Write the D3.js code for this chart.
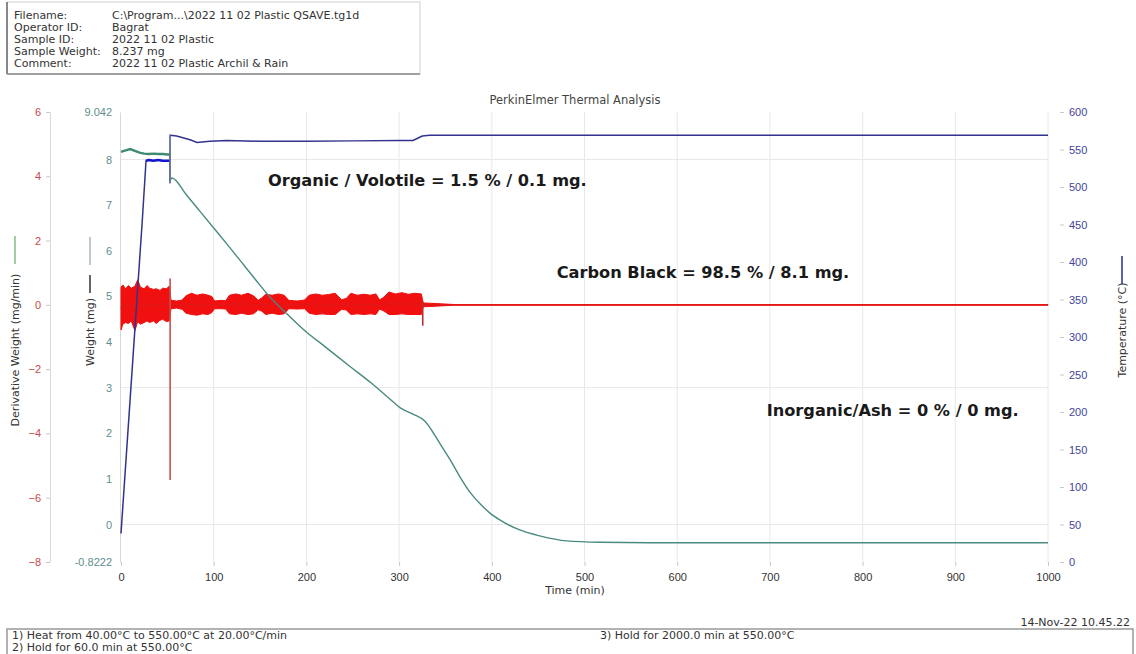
<!DOCTYPE html>
<html>
<head>
<meta charset="utf-8">
<script src="https://cdn.jsdelivr.net/npm/d3@7"></script>
<style>
  body { margin: 0; background: #fff; }
  svg { font-family: "DejaVu Sans", Verdana, sans-serif; }
</style>
</head>
<body>
<svg width="1136" height="654"></svg>
<script>
// header + footer texts
const headerLabels = ["Filename:", "Operator ID:", "Sample ID:", "Sample Weight:", "Comment:"];
const headerValues = ["C:\\Program...\\2022 11 02 Plastic QSAVE.tg1d", "Bagrat", "2022 11 02 Plastic", "8.237 mg", "2022 11 02 Plastic Archil & Rain"];
const methodSteps = ["1)  Heat from 40.00\u00B0C to 550.00\u00B0C at 20.00\u00B0C/min", "2)  Hold for 60.0 min at 550.00\u00B0C", "3)  Hold for 2000.0 min at 550.00\u00B0C"];

// tick values
const timeTicks = [0, 100, 200, 300, 400, 500, 600, 700, 800, 900, 1000];
const derivTicks = [-8, -6, -4, -2, 0, 2, 4, 6];
const weightTicks = [-0.8222, 0, 1, 2, 3, 4, 5, 6, 7, 8, 9.042];
const tempTicks = [0, 50, 100, 150, 200, 250, 300, 350, 400, 450, 500, 550, 600];

// weight (mg) vs time (min)
const weightTime = [0, 5, 10, 15, 20, 25, 30, 35, 40, 45, 50, 52.8, 53.2, 55, 70, 85, 100, 115, 130, 145, 160, 180, 200, 220, 246.7, 270, 290, 301.7, 315, 327.6, 343.9, 355, 365.5, 376, 387.1, 398, 408.6, 430.2, 451.8, 480.5, 516.4, 570, 700, 850, 1000];
const weightMg = [8.17, 8.20, 8.23, 8.19, 8.15, 8.13, 8.12, 8.13, 8.12, 8.12, 8.11, 8.11, 7.55, 7.595, 7.24, 6.87, 6.50, 6.13, 5.75, 5.37, 5.00, 4.60, 4.22, 3.90, 3.47, 3.10, 2.75, 2.55, 2.42, 2.27, 1.78, 1.42, 1.05, 0.72, 0.46, 0.25, 0.10, -0.12, -0.25, -0.36, -0.39, -0.40, -0.40, -0.40, -0.40];

// temperature (C) vs time
const tempTime = [0, 23, 27, 30, 35, 40, 45, 50, 52.8, 52.9, 53, 53.5, 60, 74.5, 82, 96, 114, 150, 200, 250, 300, 315, 320, 325, 333, 400, 600, 800, 1000];
const tempC = [38, 456, 535, 536, 535, 536, 535, 535, 535, 505, 569, 569, 568, 563, 559.5, 561, 562, 561, 561, 561.5, 562, 562, 565, 568, 569, 569, 569, 569, 569];

// derivative weight noise envelope (mg/min)
const derivTime = [0, 2, 5, 8, 11, 15, 18, 21, 25, 28, 31, 35, 38, 42, 45, 49, 52, 54, 60, 66, 70, 76, 82, 88, 94, 98, 101, 108, 113, 117, 124, 130, 137, 143, 148, 152, 156, 163, 170, 176, 181, 190, 198, 203, 210, 217, 224, 231, 238, 243, 248, 255, 262, 269, 275, 279, 284, 289, 296, 303, 310, 317, 324, 326, 340, 360, 1000];
const derivHi = [0.55, 0.62, 0.5, 0.6, 0.52, 0.58, 0.78, 0.55, 0.5, 0.6, 0.52, 0.48, 0.5, 0.45, 0.52, 0.5, 0.58, 0.14, 0.12, 0.15, 0.28, 0.36, 0.3, 0.34, 0.3, 0.26, 0.12, 0.14, 0.13, 0.3, 0.34, 0.3, 0.36, 0.28, 0.14, 0.22, 0.33, 0.3, 0.34, 0.3, 0.14, 0.12, 0.15, 0.3, 0.34, 0.3, 0.32, 0.36, 0.16, 0.2, 0.36, 0.3, 0.33, 0.3, 0.34, 0.15, 0.25, 0.4, 0.34, 0.38, 0.33, 0.36, 0.34, 0.06, 0.04, 0.01, 0.01];
const derivLo = [-0.78, -0.6, -0.55, -0.58, -0.5, -0.8, -0.52, -0.6, -0.55, -0.5, -0.55, -0.5, -0.58, -0.48, -0.45, -0.52, -0.5, -0.12, -0.1, -0.14, -0.26, -0.3, -0.32, -0.28, -0.3, -0.24, -0.12, -0.12, -0.13, -0.28, -0.3, -0.26, -0.3, -0.28, -0.15, -0.2, -0.3, -0.26, -0.3, -0.28, -0.12, -0.13, -0.12, -0.26, -0.3, -0.28, -0.3, -0.3, -0.14, -0.16, -0.3, -0.28, -0.3, -0.28, -0.3, -0.13, -0.2, -0.3, -0.3, -0.28, -0.3, -0.3, -0.3, -0.06, -0.04, -0.01, -0.01];
const spikeTime = [53, 325.5];
const spikeHi = [0.82, 0.1];
const spikeLo = [-5.45, -0.65];

const notes = [
  {text: "Organic / Volotile = 1.5 % / 0.1 mg.", t: 158.5, w: 7.42},
  {text: "Carbon Black = 98.5 % / 8.1 mg.", t: 470, w: 5.40},
  {text: "Inorganic/Ash = 0 % / 0 mg.", t: 696.5, w: 2.38}
];

const svg = d3.select("svg");
const FS = 11;

const x = d3.scaleLinear().domain([0, 1000]).range([121, 1048]);
const yD = d3.scaleLinear().domain([-8, 6]).range([562, 112]);
const yW = d3.scaleLinear().domain([-0.8222, 9.042]).range([562, 112]);
const yT = d3.scaleLinear().domain([0, 600]).range([562, 112]);

// header box
svg.append("rect").attr("x", 7).attr("y", 2).attr("width", 413).attr("height", 72)
  .attr("fill", "none").attr("stroke", "#d0d0d0");
svg.append("line").attr("x1", 7).attr("x2", 7).attr("y1", 2).attr("y2", 74).attr("stroke", "#888").attr("stroke-width", 2);
svg.append("line").attr("x1", 7).attr("x2", 420).attr("y1", 74).attr("y2", 74).attr("stroke", "#888").attr("stroke-width", 1.5);
headerLabels.forEach((l, i) => {
  svg.append("text").attr("x", 14).attr("y", 19 + i * 11.9).attr("font-size", FS).attr("fill", "#333").text(l);
  svg.append("text").attr("x", 112).attr("y", 19 + i * 11.9).attr("font-size", FS).attr("fill", "#333").text(headerValues[i]);
});

svg.append("text").attr("x", 575).attr("y", 104).attr("text-anchor", "middle")
  .attr("font-size", 11.5).attr("fill", "#444").text("PerkinElmer Thermal Analysis");

// grid
const grid = svg.append("g").attr("stroke", "#e8e8e8").attr("stroke-width", 1);
timeTicks.slice(1).forEach(t => {
  grid.append("line").attr("x1", x(t)).attr("x2", x(t)).attr("y1", 112).attr("y2", 562);
});
[8, 3, 0].forEach(w => {
  grid.append("line").attr("x1", 121).attr("x2", 1048).attr("y1", yW(w)).attr("y2", yW(w));
});

// axes
function styleAxis(g, color) {
  g.selectAll("text").attr("fill", color).attr("font-size", FS);
  g.selectAll("line").attr("stroke", "#c8c8c8");
  g.select(".domain").attr("stroke", "#d8d8d8");
}
const axD = svg.append("g").attr("transform", "translate(50,0)")
  .call(d3.axisLeft(yD).tickValues(derivTicks).tickSize(4).tickPadding(5).tickSizeOuter(0));
styleAxis(axD, "#c84a4a");

const axW = svg.append("g").attr("transform", "translate(120,0)")
  .call(d3.axisLeft(yW).tickValues(weightTicks).tickSize(0).tickPadding(8)
    .tickFormat(d => d === 9.042 ? "9.042" : d === -0.8222 ? "-0.8222" : d3.format("d")(d)));
styleAxis(axW, "#5f8e8c");

const axT = svg.append("g").attr("transform", "translate(1060,0)")
  .call(d3.axisRight(yT).tickValues(tempTicks).tickSize(4).tickPadding(5));
styleAxis(axT, "#44449a");
axT.select(".domain").remove();

const axX = svg.append("g").attr("transform", "translate(0,562)")
  .call(d3.axisBottom(x).tickValues(timeTicks).tickSize(4).tickPadding(7).tickSizeOuter(0).tickFormat(d3.format("d")));
styleAxis(axX, "#333");
axX.select(".domain").remove();

svg.append("text").attr("x", 575).attr("y", 594).attr("text-anchor", "middle")
  .attr("font-size", FS).attr("fill", "#333").text("Time (min)");

// axis titles with series markers
svg.append("line").attr("x1", 15).attr("x2", 15).attr("y1", 236).attr("y2", 264).attr("stroke", "#6aa870").attr("stroke-width", 1.2);
svg.append("text").attr("transform", "translate(19,350) rotate(-90)").attr("text-anchor", "middle")
  .attr("font-size", FS).attr("fill", "#333").text("Derivative Weight (mg/min)");
svg.append("line").attr("x1", 90).attr("x2", 90).attr("y1", 237).attr("y2", 265).attr("stroke", "#a8b8c0").attr("stroke-width", 1.5);
svg.append("line").attr("x1", 90).attr("x2", 90).attr("y1", 275).attr("y2", 293).attr("stroke", "#333").attr("stroke-width", 1.5);
svg.append("text").attr("transform", "translate(94,332) rotate(-90)").attr("text-anchor", "middle")
  .attr("font-size", FS).attr("fill", "#333").text("Weight (mg)");
svg.append("line").attr("x1", 1122).attr("x2", 1122).attr("y1", 256).attr("y2", 284).attr("stroke", "#2a2a9a").attr("stroke-width", 1.5);
svg.append("text").attr("transform", "translate(1126,330) rotate(-90)").attr("text-anchor", "middle")
  .attr("font-size", FS).attr("fill", "#333").text("Temperature (\u00B0C)");

// derivative band
const dIdx = d3.range(derivTime.length);
svg.append("path")
  .attr("d", d3.area().x(i => x(derivTime[i])).y0(i => yD(derivLo[i])).y1(i => yD(derivHi[i]))(dIdx))
  .attr("fill", "#f01010").attr("stroke", "#f01010").attr("stroke-width", 1);
svg.append("path")
  .attr("d", d3.line().x(i => x(derivTime[i])).y(i => yD((derivHi[i] + derivLo[i]) / 2))(dIdx))
  .attr("fill", "none").attr("stroke", "#e01818").attr("stroke-width", 1.3);
spikeTime.forEach((t, i) => {
  svg.append("line").attr("x1", x(t)).attr("x2", x(t)).attr("y1", yD(spikeHi[i])).attr("y2", yD(spikeLo[i]))
    .attr("stroke", i === 0 ? "#c85050" : "#b83030").attr("stroke-width", 1.6);
});

// weight curve
const wIdx = d3.range(weightTime.length);
const wLine = d3.line().x(i => x(weightTime[i])).y(i => yW(weightMg[i])).curve(d3.curveMonotoneX);
svg.append("path").attr("d", wLine(wIdx.filter(i => weightTime[i] >= 53)))
  .attr("fill", "none").attr("stroke", "#4a8a80").attr("stroke-width", 1.4);
svg.append("path").attr("d", d3.line().x(i => x(weightTime[i])).y(i => yW(weightMg[i]))(wIdx.filter(i => weightTime[i] <= 52.8)))
  .attr("fill", "none").attr("stroke", "#3f8a72").attr("stroke-width", 2.4);
svg.append("line").attr("x1", x(52.8)).attr("x2", x(53.2)).attr("y1", yW(8.11)).attr("y2", yW(7.55))
  .attr("stroke", "#4a8a80").attr("stroke-width", 1.4);

// temperature curve
const tIdx = d3.range(tempTime.length);
svg.append("path").attr("d", d3.line().x(i => x(tempTime[i])).y(i => yT(tempC[i]))(tIdx))
  .attr("fill", "none").attr("stroke", "#33338f").attr("stroke-width", 1.5);
svg.append("path").attr("d", d3.line().x(i => x(tempTime[i])).y(i => yT(tempC[i]))(tIdx.filter(i => tempTime[i] >= 27 && tempTime[i] <= 52.8)))
  .attr("fill", "none").attr("stroke", "#1414d0").attr("stroke-width", 2.6);
svg.append("line").attr("x1", x(53)).attr("x2", x(53)).attr("y1", yT(569)).attr("y2", yT(505))
  .attr("stroke", "#7080a0").attr("stroke-width", 1.6);

// notes
notes.forEach(n => {
  svg.append("text").attr("x", x(n.t)).attr("y", yW(n.w)).attr("font-size", 16.2).attr("font-weight", "bold")
    .attr("fill", "#1a1a1a").text(n.text);
});

// footer
svg.append("text").attr("x", 1130).attr("y", 626).attr("text-anchor", "end")
  .attr("font-size", FS).attr("fill", "#333").text("14-Nov-22 10.45.22");
svg.append("rect").attr("x", 7).attr("y", 629).attr("width", 1126).attr("height", 30)
  .attr("fill", "none").attr("stroke", "#999").attr("stroke-width", 1.5);
svg.append("text").attr("x", 12).attr("y", 639).attr("font-size", FS).attr("fill", "#333").text(methodSteps[0]);
svg.append("text").attr("x", 12).attr("y", 651).attr("font-size", FS).attr("fill", "#333").text(methodSteps[1]);
svg.append("text").attr("x", 600).attr("y", 639).attr("font-size", FS).attr("fill", "#333").text(methodSteps[2]);
</script>
</body>
</html>
